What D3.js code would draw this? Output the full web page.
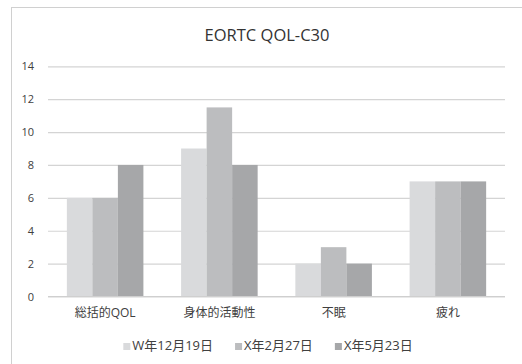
<!DOCTYPE html>
<html><head><meta charset="utf-8">
<script src="https://cdn.jsdelivr.net/npm/d3@7"></script>
<style>
body{margin:0;background:#fff;}
text{font-family:"Open Sans","Noto Sans CJK JP",sans-serif;}
</style></head>
<body><svg id="c" width="522" height="364"></svg>
<script>
const categories = ["総括的QOL","身体的活動性","不眠","疲れ"];
const seriesNames = ["W年12月19日","X年2月27日","X年5月23日"];
const seriesValues = [
  [6, 9, 2, 7],
  [6, 11.5, 3, 7],
  [8, 8, 2, 7]
];
const yTicks = [0,2,4,6,8,10,12,14];
const colors = ["#d9dadc","#bcbdbf","#a6a7a9"];

const svg = d3.select("#c");
svg.append("rect").attr("x",11.5).attr("y",7.5).attr("width",520).attr("height",370)
  .attr("fill","#fff").attr("stroke","#d0d0d0").attr("stroke-width",1);

const plotL=48, plotR=505, plotT=66.3, plotB=296.5;
const y = d3.scaleLinear().domain([0,14]).range([plotB, plotT]);
const x = d3.scaleBand().domain(categories).range([plotL,plotR]).paddingInner(0.33).paddingOuter(0.165);
const xs = d3.scaleBand().domain(d3.range(seriesNames.length)).range([0,x.bandwidth()]);

svg.append("text").attr("x",267).attr("y",41).attr("text-anchor","middle")
  .attr("font-size",16.5).attr("fill","#333").text("EORTC QOL-C30");

const yAxis = d3.axisLeft(y).tickValues(yTicks).tickSize(-(plotR-plotL)).tickPadding(14);
const gy = svg.append("g").attr("transform",`translate(${plotL},0)`).call(yAxis);
gy.select(".domain").remove();
gy.selectAll(".tick line").attr("stroke","#d4d4d4").attr("stroke-width",1.2);
gy.selectAll(".tick text").attr("font-size",11).attr("fill","#404040")
  .attr("font-family",'"Open Sans",sans-serif');

seriesValues.forEach((vals,si)=>{
  svg.append("g").selectAll("rect").data(vals).join("rect")
    .attr("x",(d,i)=>x(categories[i])+xs(si))
    .attr("y",d=>y(d))
    .attr("width",xs.bandwidth())
    .attr("height",d=>y(0)-y(d))
    .attr("fill",colors[si]);
});

svg.append("line").attr("x1",plotL).attr("x2",plotR).attr("y1",y(0)).attr("y2",y(0))
  .attr("stroke","#cfcfcf").attr("stroke-width",1.2);

const xAxis = d3.axisBottom(x).tickSize(0).tickPadding(12);
const gx = svg.append("g").attr("transform",`translate(0,${plotB})`).call(xAxis);
gx.select(".domain").remove();
gx.selectAll(".tick text").attr("font-size",12).attr("fill","#404040")
  .attr("font-family",'"Open Sans","Noto Sans CJK JP",sans-serif');

// legend
const lg = svg.append("g");
const items = seriesNames.map((n,i)=>{
  const g = lg.append("g");
  g.append("rect").attr("width",7).attr("height",7).attr("y",-7).attr("fill",colors[i]);
  const t = g.append("text").attr("x",9).attr("y",0).attr("font-size",13).attr("fill","#404040").text(n);
  return {g, w: 9 + t.node().getComputedTextLength()};
});
const gap = 22;
const total = d3.sum(items,d=>d.w) + gap*(items.length-1);
let cx = 268 - total/2;
items.forEach(it=>{ it.g.attr("transform",`translate(${cx},350)`); cx += it.w + gap; });
</script></body></html>
